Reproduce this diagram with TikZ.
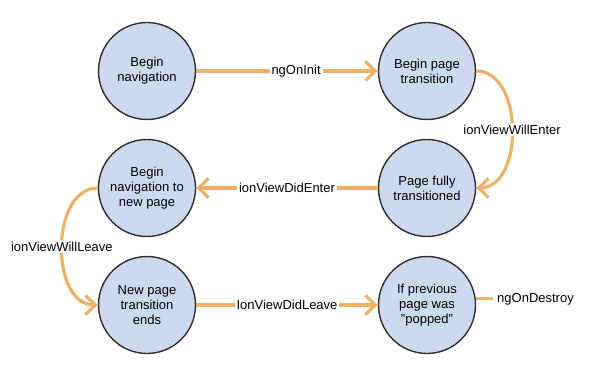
\documentclass[tikz,border=0pt]{standalone}
\usepackage{fontspec}
\setmainfont{Liberation Sans}
\usepackage{tikz}
\usetikzlibrary{positioning, arrows.meta}

\definecolor{stateblue}{HTML}{CCDAF0}
\definecolor{flowor}{HTML}{EDB064}
\definecolor{rimgray}{HTML}{2E2E2E}

\begin{document}
\begin{tikzpicture}[x=1pt, y=-1pt,
    state/.style={circle, draw=rimgray, line width=1.4pt, fill=stateblue, minimum size=97pt, inner sep=0pt, align=center, font=\fontsize{13}{15}\selectfont},
    flow/.style={draw=flowor, line width=3.2pt, -{Straight Barb[length=10pt, width=19pt, line width=3.2pt]}},
    hook/.style={fill=white, inner sep=2pt, font=\fontsize{13}{15}\selectfont}]
    \useasboundingbox (0,0) rectangle (591,371);

    % States
    \node[state] (begin) at (147,71) {Begin\\navigation};
    \node[state] (trans) at (427,71) {Begin page\\transition};
    \node[state] (full) at (427,188) {Page fully\\transitioned};
    \node[state] (navnew) at (147,188) {Begin\\navigation to\\new page};
    \node[state] (ends) at (147,305) {New page\\transition\\ends};
    \node[state] (popped) at (427,305) {If previous\\page was\\"popped"};

    % Lifecycle hooks
    \draw[flow] (begin) -- (trans) node[hook, pos=0.55] {ngOnInit};
    \draw[flow] (trans.east) to[out=0, in=0, looseness=1.05] node[hook, pos=0.5] {ionViewWillEnter} (full.east);
    \draw[flow] (full) -- (navnew) node[hook, midway] {ionViewDidEnter};
    \draw[flow] (navnew.west) to[out=180, in=180, looseness=1.05] node[hook, pos=0.5] {ionViewWillLeave} (ends.west);
    \draw[flow] (ends) -- (popped) node[hook, midway] {IonViewDidLeave};

    % Destroy
    \node[hook, anchor=west, inner sep=0pt] (destroy) at (497,299) {ngOnDestroy};
    \draw[flowor, line width=3.2pt] (popped.8) -- ([xshift=-4pt]destroy.west |- popped.8);
\end{tikzpicture}
\end{document}
